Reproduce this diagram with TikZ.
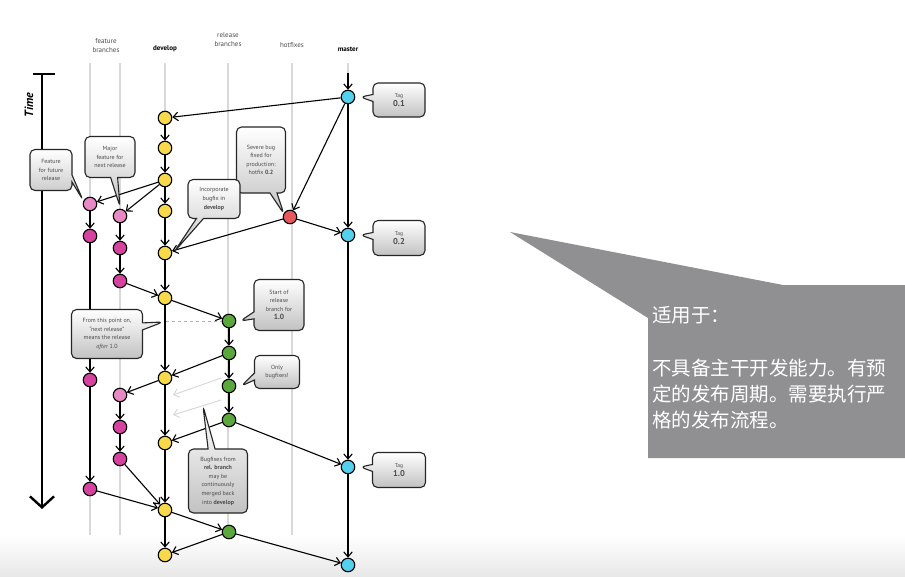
\documentclass[tikz,border=0pt]{standalone}
\usepackage{fontspec}
\setmainfont{PT Sans}
\newfontfamily\cjk{Noto Sans CJK SC}
\usetikzlibrary{arrows.meta,shapes.callouts}
\definecolor{cyel}{HTML}{F7D94A}
\definecolor{cmag}{HTML}{D6439F}
\definecolor{cpink}{HTML}{E888C4}
\definecolor{cgrn}{HTML}{5AA83B}
\definecolor{cblu}{HTML}{52D0EC}
\definecolor{cred}{HTML}{E6585E}
\definecolor{bigbox}{HTML}{909092}
\begin{document}
\begin{tikzpicture}[x=1pt,y=-1pt,
  commit/.style={circle,draw=black,line width=1.1pt,minimum size=13.5pt,inner sep=0pt},
  yel/.style={commit,fill=cyel},
  mag/.style={commit,fill=cmag},
  pnk/.style={commit,fill=cpink},
  grn/.style={commit,fill=cgrn},
  blu/.style={commit,fill=cblu},
  rd/.style={commit,fill=cred},
  flow/.style={-{Straight Barb[length=5pt,width=8.5pt]},line width=1.1pt,black},
  ghost/.style={-{Straight Barb[length=5pt,width=8.5pt]},line width=1pt,black!15},
  lane/.style={draw=black!15,line width=1.5pt},
  head/.style={font=\fontsize{7}{9}\selectfont,text=black!70,align=center},
  note/.style={rectangle callout,rounded corners=5pt,draw=black!85,line width=1.1pt,
    top color=white,bottom color=black!24,align=center,
    font=\fontsize{6}{8.6}\selectfont,text=black!70,inner sep=2pt,callout pointer width=7pt},
]
\useasboundingbox (0,0) rectangle (905,576);
\fill[white] (0,0) rectangle (905,576);

% lanes
\foreach \x/\n in {90/a,120/b,165/c,228/d,292/e,348/f}{
  \coordinate (lt\n) at (\x,63);
  \coordinate (lb\n) at (\x,560);
  \draw[lane] (lt\n) -- (lb\n);
}
% bottom band
\shade[top color=white,bottom color=black!9] (0,535) rectangle (905,576);

% headers
\node[head] (hfeat) at (106,46) {feature\\branches};
\node[head,font=\bfseries\fontsize{7}{9}\selectfont,text=black] (hdev) at (165,49) {develop};
\node[head] (hrel) at (228,40) {release\\branches};
\node[head] (hhot) at (292,45) {hotfixes};
\node[head,font=\bfseries\fontsize{7}{9}\selectfont,text=black] (hmas) at (348,49) {master};

% time axis
\coordinate (tk1) at (33,74);
\coordinate (tk2) at (55,74);
\coordinate (t0) at (42,74);
\coordinate (t1) at (42,509);
\draw[line width=2.5pt] (tk1) -- (tk2);
\draw[line width=2.4pt,-{Straight Barb[length=11pt,width=24pt,line width=2.4pt]}] (t0) -- (t1);
\node[rotate=90,font=\bfseries\itshape\fontsize{12}{12}\selectfont] (tlab) at (29,105) {Time};

% commits
\node[blu] (M1) at (348,97) {};
\node[blu] (M2) at (348,235) {};
\node[blu] (M3) at (348,467) {};
\node[blu] (M4) at (348,565) {};
\node[yel] (D1) at (165,118) {};
\node[yel] (D2) at (165,148) {};
\node[yel] (D3) at (165,180) {};
\node[yel] (D4) at (165,211) {};
\node[yel] (D5) at (165,253) {};
\node[yel] (D6) at (165,298) {};
\node[yel] (D7) at (165,378) {};
\node[yel] (D8) at (165,443) {};
\node[yel] (D9) at (165,510) {};
\node[yel] (D10) at (165,555) {};
\node[pnk] (F1a) at (90,204) {};
\node[mag] (F1b) at (90,236) {};
\node[mag] (F1c) at (90,380) {};
\node[mag] (F1d) at (90,489) {};
\node[pnk] (F2a) at (120,216) {};
\node[mag] (F2b) at (120,248) {};
\node[mag] (F2c) at (120,281) {};
\node[pnk] (F2d) at (120,395) {};
\node[mag] (F2e) at (120,427) {};
\node[mag] (F2f) at (120,459) {};
\node[grn] (R1) at (229,321) {};
\node[grn] (R2) at (229,353) {};
\node[grn] (R3) at (229,386) {};
\node[grn] (R4) at (229,420) {};
\node[grn] (R5) at (229,532) {};
\node[rd] (H1) at (290,217) {};

% master
\coordinate (mtop) at (348,73);
\draw[flow] (mtop) -- (M1);
\draw[flow] (M1) -- (M2);
\draw[flow] (M2) -- (M3);
\draw[flow] (M3) -- (M4);
% develop
\foreach \a/\b in {D1/D2,D2/D3,D3/D4,D4/D5,D5/D6,D6/D7,D7/D8,D8/D9,D9/D10}
  \draw[flow] (\a) -- (\b);
% features
\draw[flow] (D3) -- (F1a);
\draw[flow] (D3) -- (F2a);
\draw[flow] (F1a) -- (F1b);
\draw[flow] (F1b) -- (F1c);
\draw[flow] (F1c) -- (F1d);
\draw[flow] (F1d) -- (D9);
\draw[flow] (F2a) -- (F2b);
\draw[flow] (F2b) -- (F2c);
\draw[flow] (F2c) -- (D6);
\draw[flow] (D7) -- (F2d);
\draw[flow] (F2d) -- (F2e);
\draw[flow] (F2e) -- (F2f);
\draw[flow] (F2f) -- (D9);
% hotfix
\draw[flow] (M1) -- (D1);
\draw[flow] (M1) -- (H1);
\draw[flow] (H1) -- (M2);
\draw[flow] (H1) -- (D5);
% release
\coordinate (dv) at (166,321);
\draw[dashed,black!30,line width=0.8pt] (dv) -- (R1);
\draw[flow] (D6) -- (R1);
\draw[flow] (R1) -- (R2);
\draw[flow] (R2) -- (R3);
\draw[flow] (R3) -- (R4);
\draw[flow] (R2) -- (D7);
\draw[flow] (R4) -- (D8);
\draw[flow] (R4) -- (M3);
\draw[flow] (D9) -- (R5);
\draw[flow] (R5) -- (D10);
\draw[flow] (R5) -- (M4);
% ghost merges
\coordinate (g1s) at (221,378);
\coordinate (g1e) at (173,395);
\coordinate (g2s) at (221,400);
\coordinate (g2e) at (173,415);
\draw[ghost] (g1s) -- (g1e);
\draw[ghost] (g2s) -- (g2e);

% callouts
\node[note,minimum width=52pt,minimum height=34pt,callout absolute pointer={([xshift=5pt]M1.east)}] (tag1) at (399,100)
  {{\fontsize{5.5}{7}\selectfont Tag}\\{\bfseries\fontsize{8.5}{9}\selectfont 0.1}};
\node[note,minimum width=52pt,minimum height=35pt,callout absolute pointer={([xshift=5pt]M2.east)}] (tag2) at (399,238)
  {{\fontsize{5.5}{7}\selectfont Tag}\\{\bfseries\fontsize{8.5}{9}\selectfont 0.2}};
\node[note,minimum width=53pt,minimum height=35pt,callout absolute pointer={([xshift=5pt]M3.east)}] (tag3) at (399,470)
  {{\fontsize{5.5}{7}\selectfont Tag}\\{\bfseries\fontsize{8.5}{9}\selectfont 1.0}};
\node[note,minimum width=42pt,minimum height=41pt,callout absolute pointer={([shift={(-2pt,-1pt)}]F1a.north west)}] (nfut) at (51,170)
  {Feature\\for future\\release};
\node[note,minimum width=50pt,minimum height=41pt,callout absolute pointer={([yshift=2pt]F2a.north)}] (nmaj) at (110,157)
  {Major\\feature for\\next release};
\node[note,minimum width=49pt,minimum height=66pt,callout absolute pointer={([shift={(-1pt,-2pt)}]H1.north west)}] (nsev) at (261,160)
  {Severe bug\\fixed for\\production:\\hotfix \textbf{0.2}};
\node[note,minimum width=52pt,minimum height=39pt,callout absolute pointer={([shift={(4pt,-4pt)}]D5.north east)}] (ninc) at (214,199)
  {Incorporate\\bugfix in\\\textbf{develop}};
\node[note,minimum width=50pt,minimum height=51pt,callout absolute pointer={([xshift=4pt]R1.east)}] (nstart) at (279,305)
  {Start of\\release\\branch for\\{\bfseries\fontsize{7.5}{9}\selectfont 1.0}};
\node[note,minimum width=71pt,minimum height=49pt,callout absolute pointer={(163,322)}] (nfrom) at (107,334)
  {From this point on,\\``next release''\\means the release\\\textit{after} 1.0};
\node[note,minimum width=45pt,minimum height=33pt,callout absolute pointer={([xshift=5pt]R3.east)}] (nonly) at (277,372)
  {Only\\bugfixes!};
\node[note,minimum width=59pt,minimum height=64pt,callout absolute pointer={(203,406)}] (nbug) at (218,481)
  {Bugfixes from\\\textbf{rel. branch}\\may be\\continuously\\merged back\\into \textbf{develop}};

% big grey callout
\coordinate (ap) at (510,232);
\coordinate (bt) at (783,285);
\coordinate (btr) at (905,285);
\coordinate (bbr) at (905,458);
\coordinate (bbl) at (648,458);
\coordinate (bl) at (648,318);
\fill[bigbox] (ap) -- (bt) -- (btr) -- (bbr) -- (bbl) -- (bl) -- cycle;
\node[anchor=north west,inner sep=0pt,align=left,text=white,font=\cjk\fontsize{19.5}{26}\selectfont] (btext) at (652,306)
  {适用于：\\[27pt]不具备主干开发能力。有预\\定的发布周期。需要执行严\\格的发布流程。};
\end{tikzpicture}
\end{document}
